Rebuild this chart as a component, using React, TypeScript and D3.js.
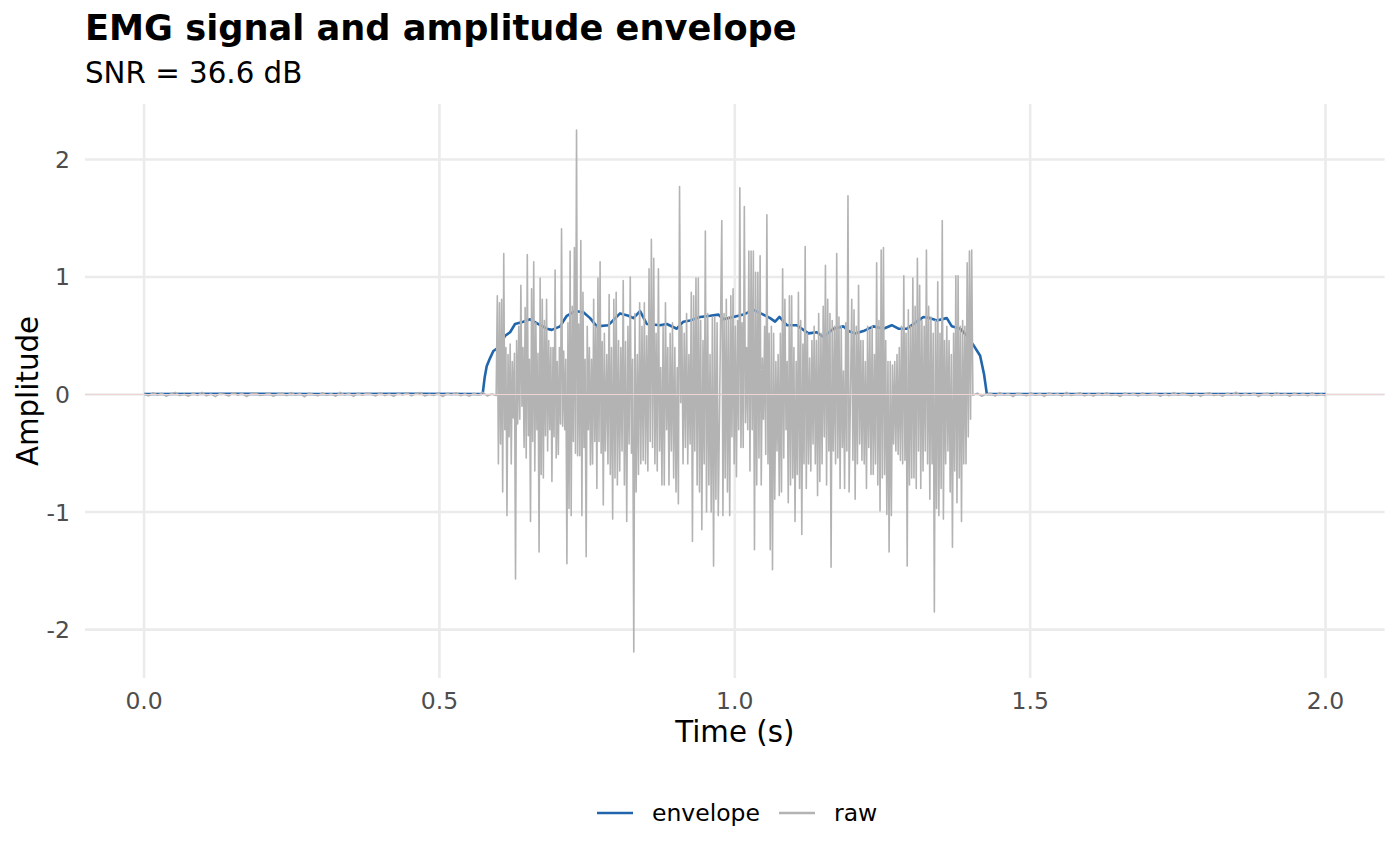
import * as d3 from 'd3';

// raw EMG, quiet baseline before the burst
const rawPre = [0.008,-0.012,0.015,-0.004,0.011,-0.016,0.006,0.018,-0.009,0.003,-0.014,0.012,-0.007,0.019,-0.011,0.005,-0.018,0.009,0.002,-0.013,0.016,-0.006,0.01,-0.017,0.007,0.014,-0.008,-0.002,0.013,-0.015,0.004,0.011,-0.01,0.017,-0.005,0.008,-0.019,0.012,0.001,-0.011,0.015,-0.007,0.006,-0.014,0.018,-0.003,0.009,-0.016,0.011,-0.006,0.013,0.002,-0.012,0.016,-0.009,0.005,-0.015,0.01,-0.004,0.014,-0.011,0.007,0.017,-0.013,0.003,-0.008,0.012,-0.017,0.009,-0.002,0.015,-0.01,0.006,-0.014,0.011,-0.005,0.018,-0.012,0.004,-0.009];

// active burst, four stretches
const burstA = [0.84,-0.59,0.78,-0.42,0.81,-0.83,1.2,-0.3,0.4,-1.03,0.34,-0.36,0.43,-0.59,0.28,-0.2,0.35,-1.57,0.46,-0.25,0.58,-0.21,0.93,-0.1,0.4,-0.45,0.74,-0.54,1.19,-0.35,0.3,-1.08,0.9,-0.4,1.13,-0.65,0.61,-0.3,0.35,-1.34,0.99,-0.68,0.81,-0.71,0.63,-0.35,0.81,-0.48,0.46,-0.3,0.4,-0.74,0.4,-0.36,1.06,-0.54,0.28,-0.51,0.4,-0.25,1.41,-0.27,0.37,-0.3,0.3,-1.44,0.61,-0.97,1.22,-1.03,0.75,-0.4,1.25,-0.5,2.25,-0.52,0.6,-0.52,1.31,-1.03,0.87,-0.45,0.3,-1.38,0.58,-0.3,0.4,-0.6,0.3,-0.59,0.81,-0.4,0.58,-0.8,0.99,-0.4,1.13,-0.5,0.45,-0.94,0.52,-0.48];
const burstB = [0.34,-0.59,0.85,-0.68,0.4,-1.06,0.81,-0.71,0.87,-0.77,0.46,-0.65,0.4,-0.48,0.97,-0.77,0.45,-1.08,0.58,-0.42,1.0,-0.5,0.3,-2.19,0.69,-0.83,0.34,-0.68,0.78,-0.59,0.58,-0.56,0.78,-0.59,0.5,-0.65,1.07,-0.4,1.32,-0.45,1.16,-0.59,0.52,-0.65,1.07,-0.48,0.23,-0.77,0.58,-0.77,0.78,-0.3,0.4,-0.77,0.52,-0.48,0.61,-0.71,0.4,-0.83,0.23,-0.93,1.77,-0.07,0.58,-0.59,0.52,-0.45,0.69,-0.59,0.34,-0.42,0.87,-1.25,0.84,-0.48,0.99,-0.77,0.99,-0.83,0.63,-1.15,0.46,-0.59,1.39,-1.0,0.69,-0.77,0.34,-1.0,0.66,-1.46,0.66,-0.89,0.61,-1.03];
const burstC = [1.48,-1.03,0.69,-0.71,0.81,-0.83,0.66,-1.03,0.84,-0.36,0.9,-0.59,0.58,-0.7,0.63,-0.3,1.76,-0.45,0.61,-0.45,1.6,-0.24,0.4,-0.3,1.22,-0.65,1.22,-0.3,1.22,-1.32,1.04,-0.77,1.04,-0.54,1.18,-0.77,0.31,-0.21,0.58,-0.51,1.53,-0.59,0.52,-1.32,0.58,-1.49,0.52,-0.89,0.28,-0.48,0.34,-0.86,0.52,-0.83,1.07,-0.54,0.81,-0.3,0.28,-0.92,0.84,-0.77,0.84,-0.71,0.4,-1.08,0.28,-0.68,0.87,-0.8,0.63,-1.19,0.43,-0.59,1.26,-0.8,0.52,-0.59,0.31,-0.65,0.46,-0.42,0.58,-0.59,0.46,-0.86,0.69,-0.74,0.52,-0.59,0.75,-0.36,1.1,-0.77,0.81,-0.48,0.69,-1.47,0.63,-0.48,0.58,-0.59,1.2,-0.54,0.66,-0.8,0.58,-0.45,0.2,-0.8,0.61,-0.48,1.69,-0.83];
const burstD = [0.81,-0.56,0.72,-0.89,0.58,-0.59,0.93,-0.42,0.46,-0.56,0.46,-0.59,0.28,-0.8,0.58,-0.45,0.55,-0.68,0.58,-0.68,0.34,-0.59,1.12,-0.77,0.63,-0.99,1.23,-0.71,1.25,-0.68,0.46,-1.02,0.28,-1.34,0.28,-1.03,0.25,-0.42,0.28,-0.48,0.34,-0.51,0.4,-0.56,0.58,-0.59,1.01,-0.56,0.52,-1.46,0.72,-0.77,0.58,-0.71,0.99,-0.71,0.75,-0.8,1.16,-0.48,0.93,-0.8,0.63,-0.65,0.58,-0.48,1.23,-0.59,0.75,-0.89,0.66,-0.59,0.52,-1.85,0.63,-0.97,0.96,-1.03,0.52,-0.8,1.48,-1.06,0.46,-0.59,0.58,-0.48,0.46,-0.83,0.34,-1.3,0.52,-0.65,1.01,-0.92,1.01,-0.71,0.58,-1.08,0.63,-0.59,0.58,-0.59,1.12,-0.36,1.22,-0.21,1.23];

// raw EMG, quiet baseline after the burst
const rawPost = [-0.007,0.012,-0.015,0.005,0.01,-0.013,0.017,-0.004,0.008,-0.018,0.011,0.003,-0.01,0.014,-0.006,0.009,-0.016,0.013,-0.002,0.006,-0.012,0.018,-0.009,0.004,0.015,-0.011,0.007,-0.014,0.01,-0.005,0.016,-0.008,0.002,-0.017,0.012,-0.003,0.009,-0.013,0.014,-0.007,0.005,0.011,-0.015,0.008,-0.01,0.017,-0.006,0.013,-0.001,-0.012,0.01,-0.016,0.006,0.015,-0.009,0.003,-0.014,0.011,-0.004,0.019,-0.011,0.008,-0.007,0.013,-0.018,0.005,0.01,-0.012,0.016,-0.003,0.007,-0.015,0.012,-0.006,0.009,-0.01,0.014,-0.008,0.004,-0.011];

// sample stretches: values with their first and last time (s)
const rawSegments = [rawPre, burstA, burstB, burstC, burstD, rawPost];
const segStart = [0, 0.598, 0.7833, 0.978, 1.198, 1.403];
const segEnd = [0.596, 0.781, 0.972, 1.1935, 1.401, 2.0];

// amplitude envelope
const envTime = [0, 0.15, 0.3, 0.45, 0.57, 0.5733, 0.5767, 0.58, 0.5857, 0.5913, 0.5998, 0.6111, 0.6196, 0.628, 0.6421, 0.6535, 0.6676, 0.6817, 0.6902, 0.7043, 0.7156, 0.7296, 0.7437, 0.755, 0.7664, 0.786, 0.8058, 0.82, 0.8284, 0.8397, 0.851, 0.8735, 0.8849, 0.9018, 0.913, 0.9243, 0.9413, 0.9582, 0.9723, 0.9807, 0.9976, 1.0146, 1.0315, 1.0484, 1.0598, 1.0682, 1.0756, 1.088, 1.105, 1.1246, 1.1388, 1.15, 1.167, 1.1839, 1.1923, 1.2037, 1.2177, 1.2347, 1.2516, 1.2657, 1.277, 1.2912, 1.3081, 1.3193, 1.3306, 1.342, 1.3589, 1.3674, 1.3814, 1.3927, 1.404, 1.4153, 1.422, 1.4266, 1.6, 1.8, 2.0];
const envValue = [0.005, 0.006, 0.004, 0.006, 0.005, 0.01, 0.15, 0.24, 0.31, 0.37, 0.4, 0.5, 0.53, 0.6, 0.62, 0.64, 0.6, 0.56, 0.55, 0.58, 0.67, 0.71, 0.7, 0.65, 0.58, 0.59, 0.69, 0.67, 0.65, 0.71, 0.6, 0.59, 0.6, 0.56, 0.62, 0.63, 0.66, 0.67, 0.68, 0.64, 0.66, 0.68, 0.72, 0.68, 0.65, 0.62, 0.66, 0.59, 0.59, 0.52, 0.53, 0.49, 0.56, 0.58, 0.54, 0.52, 0.54, 0.58, 0.56, 0.59, 0.56, 0.56, 0.62, 0.66, 0.65, 0.63, 0.65, 0.58, 0.56, 0.5, 0.42, 0.33, 0.17, 0.005, 0.005, 0.004, 0.005];

const xTicks = [0, 0.5, 1, 1.5, 2];
const yTicks = [-2, -1, 0, 1, 2];
const legendLabels = ['envelope', 'raw'];

const W = 1400;
const H = 866;
const FONT = 'DejaVu Sans, sans-serif';
const COLORS = { envelope: '#2166AC', raw: '#B3B3B3' };

const rawPoints = rawSegments.flatMap((vals, s) =>
  vals.map((v, i) => ({
    t: segStart[s] + ((segEnd[s] - segStart[s]) * i) / (vals.length - 1),
    v,
  }))
);
const envPoints = envTime.map((t, i) => ({ t, v: envValue[i] }));

const expand = (lo, hi) => {
  const pad = (hi - lo) * 0.05;
  return [lo - pad, hi + pad];
};

const App = () => {
  const panel = { left: 85, right: 1384.6, top: 104, bottom: 678 };

  const x = d3.scaleLinear().domain(expand(0, 2)).range([panel.left, panel.right]);
  const [ymin, ymax] = d3.extent(rawPoints, (d) => d.v);
  const y = d3.scaleLinear().domain(expand(ymin, ymax)).range([panel.bottom, panel.top]);

  const line = d3
    .line()
    .x((d) => x(d.t))
    .y((d) => y(d.v));

  const legendX = [597, 779];

  return (
    <div style={{ position: 'absolute', left: 0, top: 0, background: '#fff' }}>
      <svg width={W} height={H} style={{ display: 'block', fontFamily: FONT }}>
        <rect width={W} height={H} fill="#fff" />

        {/* grid */}
        {yTicks.map((t) => (
          <line key={'gy' + t} x1={panel.left} x2={panel.right} y1={y(t)} y2={y(t)} stroke="#EBEBEB" strokeWidth={2.6} />
        ))}
        {xTicks.map((t) => (
          <line key={'gx' + t} x1={x(t)} x2={x(t)} y1={panel.top} y2={panel.bottom} stroke="#EBEBEB" strokeWidth={2.6} />
        ))}

        <path d={line(envPoints)} fill="none" stroke={COLORS.envelope} strokeWidth={2.6} strokeLinejoin="round" />
        <path d={line(rawPoints)} fill="none" stroke={COLORS.raw} strokeWidth={1.6} strokeLinejoin="round" />

        <line x1={panel.left} x2={panel.right} y1={y(0)} y2={y(0)} stroke="#EED6D6" strokeWidth={1} />

        {/* axis labels */}
        {yTicks.map((t) => (
          <text key={'ly' + t} x={70} y={y(t)} dy="0.36em" textAnchor="end" fontSize={23.5} fill="#4D4D4D">
            {t}
          </text>
        ))}
        {xTicks.map((t) => (
          <text key={'lx' + t} x={x(t)} y={709} textAnchor="middle" fontSize={23.5} fill="#4D4D4D">
            {d3.format('.1f')(t)}
          </text>
        ))}

        <text x={(panel.left + panel.right) / 2} y={742} textAnchor="middle" fontSize={29.3} fill="#000">
          Time (s)
        </text>
        <text transform={`translate(38,${(panel.top + panel.bottom) / 2}) rotate(-90)`} textAnchor="middle" fontSize={29.3} fill="#000">
          Amplitude
        </text>

        <text x={85} y={40} fontSize={35.2} fontWeight="bold" fill="#000">
          EMG signal and amplitude envelope
        </text>
        <text x={85} y={83} fontSize={29.3} fill="#000">
          SNR = 36.6 dB
        </text>

        {/* legend */}
        {legendLabels.map((lab, i) => (
          <g key={lab}>
            <line x1={legendX[i]} x2={legendX[i] + 36} y1={813} y2={813} stroke={COLORS[lab]} strokeWidth={2.6} />
            <text x={legendX[i] + 55} y={813} dy="0.32em" fontSize={23.5} fill="#000">
              {lab}
            </text>
          </g>
        ))}
      </svg>
    </div>
  );
};

export default App;
